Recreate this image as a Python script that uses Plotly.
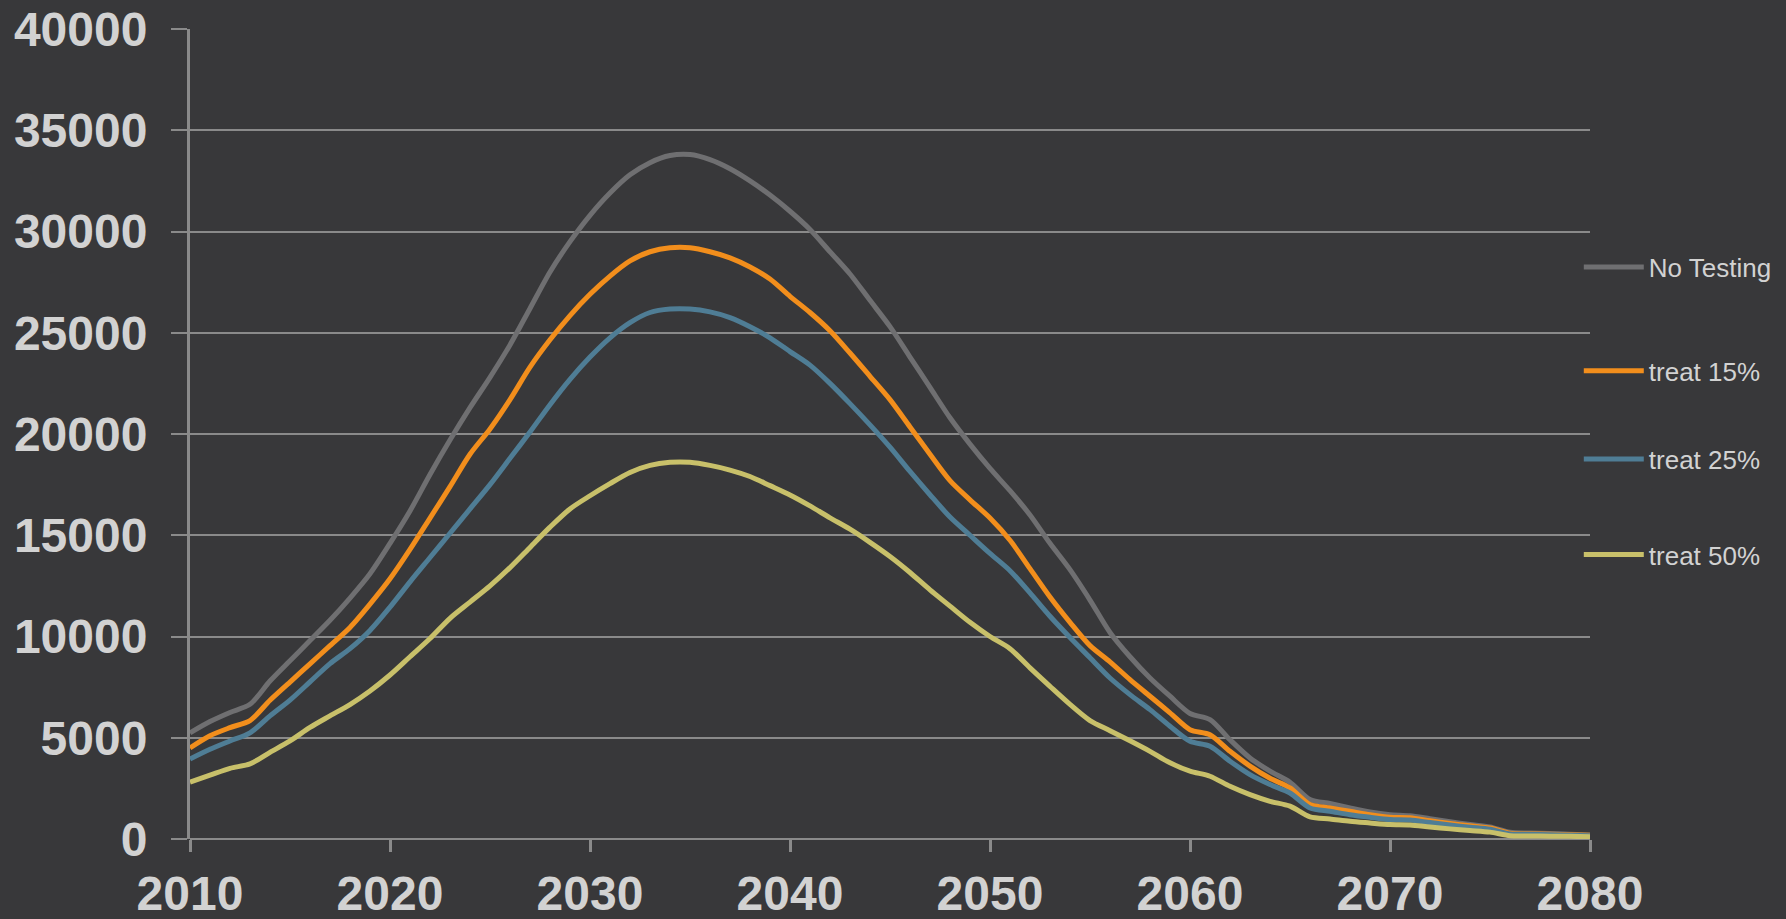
import plotly.graph_objects as go

years = list(range(2010, 2081))

no_testing = [5240, 5800, 6250, 6650, 7800, 8800, 9800, 10800, 11900, 13100,
              14600, 16200, 18000, 19700, 21300, 22800, 24400, 26200, 28000, 29500,
              30800, 31900, 32800, 33400, 33750, 33800, 33550, 33100, 32500, 31800,
              31000, 30100, 29000, 27900, 26600, 25300, 23800, 22300, 20800, 19500,
              18300, 17200, 16000, 14600, 13300, 11800, 10200, 9000, 7950, 7050,
              6200, 5900, 4900, 4000, 3350, 2800, 1950, 1750, 1530, 1330,
              1200, 1150, 1000, 850, 720, 600, 330, 300, 270, 240, 200]

treat15 = [4500, 5100, 5500, 5850, 6850, 7750, 8650, 9550, 10450, 11600,
           12850, 14300, 15850, 17400, 19000, 20250, 21700, 23300, 24650, 25850,
           26900, 27800, 28550, 29000, 29200, 29200, 29000, 28700, 28250, 27650,
           26800, 26000, 25100, 24000, 22850, 21700, 20350, 19000, 17700, 16750,
           15850, 14750, 13350, 11950, 10700, 9550, 8750, 7870, 7050, 6230,
           5400, 5150, 4330, 3600, 3000, 2520, 1700, 1530, 1370, 1200,
           1070, 1050, 900, 770, 650, 540, 280, 260, 230, 210, 180]

treat25 = [3950, 4430, 4840, 5240, 6080, 6860, 7760, 8660, 9400, 10300,
           11450, 12700, 13900, 15100, 16300, 17500, 18800, 20100, 21450, 22700,
           23800, 24750, 25500, 26000, 26170, 26170, 26030, 25750, 25300, 24750,
           24070, 23400, 22500, 21500, 20450, 19350, 18150, 17000, 15900, 15000,
           14100, 13250, 12150, 11000, 9950, 8950, 7950, 7130, 6390, 5570,
           4830, 4580, 3840, 3180, 2690, 2270, 1530, 1370, 1200, 1070,
           960, 940, 810, 690, 580, 480, 250, 230, 210, 190, 160]

treat50 = [2810, 3150, 3490, 3710, 4280, 4840, 5510, 6080, 6640, 7310,
           8100, 9000, 9900, 10900, 11700, 12500, 13400, 14400, 15400, 16300,
           16950, 17550, 18100, 18450, 18600, 18600, 18450, 18220, 17900, 17450,
           16990, 16450, 15860, 15300, 14650, 13950, 13160, 12300, 11500, 10700,
           10000, 9400, 8450, 7540, 6650, 5850, 5350, 4850, 4330, 3760,
           3350, 3100, 2600, 2190, 1860, 1620, 1090, 990, 875, 790,
           710, 690, 590, 500, 420, 340, 160, 150, 140, 130, 110]

series_names = ["No Testing", "treat 15%", "treat 25%", "treat 50%"]
series_values = [no_testing, treat15, treat25, treat50]
colors = ["#6f6f71", "#f28e1c", "#4f7d95", "#c8c06a"]
legend_ids = ["legend", "legend2", "legend3", "legend4"]
legend_y = [0.706, 0.578, 0.469, 0.351]

y_ticks = [0, 5000, 10000, 15000, 20000, 25000, 30000, 35000, 40000]
x_ticks = [2010, 2020, 2030, 2040, 2050, 2060, 2070, 2080]

fig = go.Figure()
for name, vals, col, lid in zip(series_names, series_values, colors, legend_ids):
    fig.add_trace(go.Scatter(
        x=years, y=vals, name=name, mode="lines",
        line=dict(color=col, width=5, shape="spline", smoothing=0.8),
        legend=lid,
    ))

bg = "#38383a"
grid = "#8a8a8a"
tickfont = dict(family="Liberation Sans, Arial, sans-serif", size=48, color="#d2d2d2", weight="bold")

legend_common = dict(
    x=0.992, xanchor="left", yanchor="middle",
    bgcolor="rgba(0,0,0,0)", borderwidth=0,
    font=dict(family="Liberation Sans, Arial, sans-serif", size=26, color="#d2d2d2"),
    itemwidth=60,
)

layout_legends = {}
for lid, ly in zip(legend_ids, legend_y):
    layout_legends[lid] = dict(legend_common, y=ly)

fig.update_layout(
    width=1786, height=919,
    paper_bgcolor=bg, plot_bgcolor=bg,
    margin=dict(l=190, r=196, t=29, b=80, autoexpand=False),
    showlegend=True,
    **layout_legends,
)

fig.update_xaxes(
    range=[2010, 2080], tickvals=x_ticks, ticktext=[str(v) for v in x_ticks],
    showgrid=False, zeroline=False, automargin=False,
    ticks="outside", ticklen=12, tickwidth=3, tickcolor=grid,
    tickfont=tickfont,
    showline=False,
    ticklabelstandoff=0,
)
fig.update_yaxes(
    range=[0, 40000], tickvals=y_ticks, ticktext=[str(v) for v in y_ticks],
    showgrid=True, gridcolor=grid, gridwidth=2,
    zeroline=True, zerolinecolor=grid, zerolinewidth=2,
    ticks="outside", ticklen=16, tickwidth=2, tickcolor=grid,
    tickfont=tickfont, automargin=False,
    showline=True, linecolor=grid, linewidth=3,
    ticklabelstandoff=14,
)

fig.write_html(
    "out.html",
    config={"displayModeBar": False},
    post_script="document.body.style.margin='0';document.body.style.overflow='hidden';",
)
